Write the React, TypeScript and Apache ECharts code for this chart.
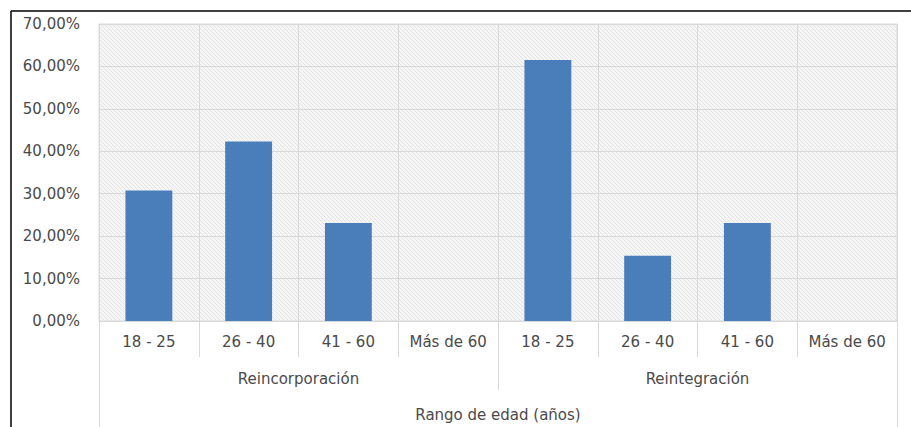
import React, { useEffect, useRef } from "react";
import * as echarts from "echarts";

const ageRanges = ["18 - 25", "26 - 40", "41 - 60", "Más de 60"];
const groups = ["Reincorporación", "Reintegración"];
const axisTitle = "Rango de edad (años)";
const reincorporacion = [30.77, 42.31, 23.08, 0];
const reintegracion = [61.54, 15.38, 23.08, 0];
const yTicks = [0, 10, 20, 30, 40, 50, 60, 70];

function hatchPattern(): any {
  const c = document.createElement("canvas");
  c.width = 4;
  c.height = 4;
  const ctx = c.getContext("2d")!;
  ctx.fillStyle = "#f6f6f6";
  ctx.fillRect(0, 0, 4, 4);
  ctx.fillStyle = "#e3e3e3";
  for (let i = 0; i < 4; i++) ctx.fillRect(i, i, 1, 1);
  return { image: c.toDataURL(), imageWidth: 4, imageHeight: 4, repeat: "repeat" };
}

export default function App() {
  const ref = useRef<HTMLDivElement>(null);
  useEffect(() => {
    if (!ref.current) return;
    const chart = echarts.init(ref.current, null, { renderer: "svg" });
    const categories = [...ageRanges, ...ageRanges];
    const values = [...reincorporacion, ...reintegracion];
    const font = "DejaVu Sans";
    const labelColor = "#4a4a4a";
    const lineColor = "#d9d9d9";
    const fs = 15;
    chart.setOption({
      animation: false,
      backgroundColor: "#ffffff",
      grid: {
        left: 99,
        right: 14,
        top: 24,
        bottom: 106,
        show: true,
        backgroundColor: hatchPattern(),
        borderColor: lineColor,
        borderWidth: 1,
      },
      xAxis: [
        {
          type: "category",
          data: categories,
          position: "bottom",
          axisLine: { show: true, lineStyle: { color: lineColor, width: 1 } },
          axisTick: { show: true, interval: 0, length: 36, lineStyle: { color: lineColor } },
          splitLine: { show: true, interval: 0, lineStyle: { color: lineColor, width: 1 } },
          axisLabel: { interval: 0, margin: 13, color: labelColor, fontFamily: font, fontSize: fs, lineHeight: 15 },
        },
        {
          type: "category",
          data: groups,
          position: "bottom",
          offset: 36,
          axisLine: { show: false },
          axisTick: { show: true, interval: 0, length: 33, lineStyle: { color: lineColor } },
          axisLabel: { interval: 0, margin: 14, color: labelColor, fontFamily: font, fontSize: fs, lineHeight: 15 },
        },
        {
          type: "category",
          data: [axisTitle],
          position: "bottom",
          offset: 69,
          axisLine: { show: false },
          axisTick: { show: true, interval: 0, length: 40, lineStyle: { color: lineColor } },
          axisLabel: { interval: 0, margin: 17, color: labelColor, fontFamily: font, fontSize: fs, lineHeight: 15 },
        },
      ],
      yAxis: {
        type: "value",
        min: yTicks[0],
        max: yTicks[yTicks.length - 1],
        interval: 10,
        axisLine: { show: false },
        axisTick: { show: false },
        splitLine: { show: true, lineStyle: { color: lineColor, width: 1 } },
        axisLabel: {
          margin: 19,
          color: labelColor,
          fontFamily: font,
          fontSize: fs,
          formatter: (v: number) => v.toFixed(2).replace(".", ",") + "%",
        },
      },
      series: [
        {
          type: "bar",
          xAxisIndex: 0,
          data: values,
          barWidth: "47%",
          itemStyle: { color: "#4a7ebb" },
        },
      ],
      graphic: [
        { type: "line", shape: { x1: 11, y1: 11, x2: 911, y2: 11 }, style: { stroke: "#000", lineWidth: 1.5 }, z: 100 },
        { type: "line", shape: { x1: 11, y1: 11, x2: 11, y2: 427 }, style: { stroke: "#000", lineWidth: 1.5 }, z: 100 },
      ],
    });
    return () => chart.dispose();
  }, []);
  return (
    <div
      ref={ref}
      style={{ position: "absolute", left: 0, top: 0, width: 911, height: 427, background: "#fff" }}
    />
  );
}
